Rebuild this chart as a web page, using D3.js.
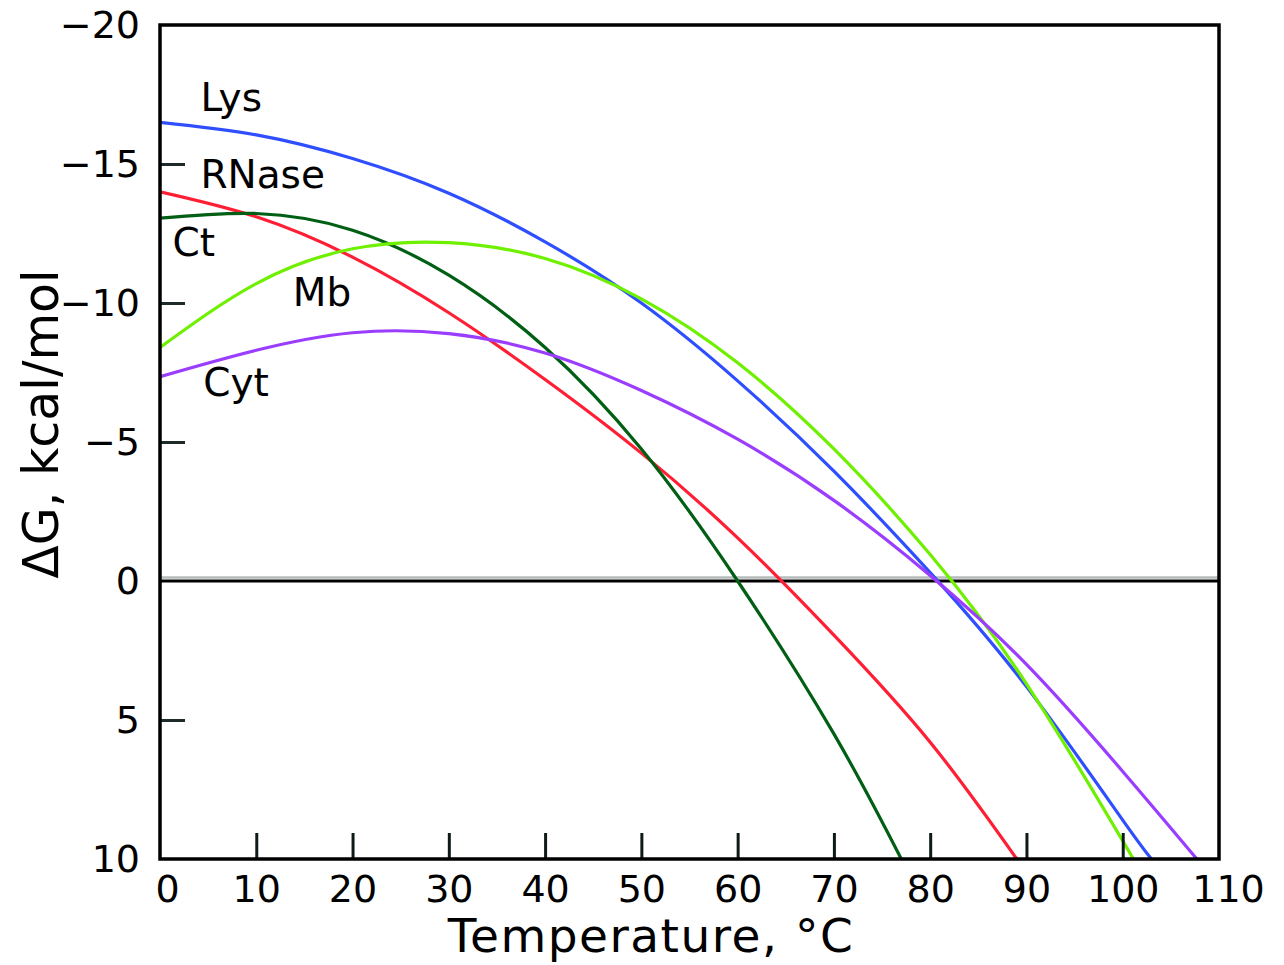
<!DOCTYPE html>
<html>
<head>
<meta charset="utf-8">
<script src="https://cdn.jsdelivr.net/npm/d3@7"></script>
<style>
  html, body { margin: 0; padding: 0; background: #fff; }
  svg { display: block; }
  text { font-family: "DejaVu Sans", Verdana, sans-serif; fill: #000; }
</style>
</head>
<body>
<svg id="chart" width="1284" height="965"></svg>
<script>
// ---- data ----
const seriesNames = ["Lys", "RNase", "Ct", "Mb", "Cyt"];

const lysT = [0, 10, 20, 30, 40, 50, 60, 70, 80, 90, 100, 103];
const lysG = [-16.5, -16.05, -15.2, -13.95, -12.2, -10.0, -7.2, -3.95, -0.3, 3.8, 8.6, 10];

const rnaseT = [0, 10, 20, 30, 40, 50, 60, 70, 80, 89];
const rnaseG = [-14.0, -13.1, -11.65, -9.65, -7.25, -4.6, -1.55, 1.95, 5.8, 10];

const ctT = [0, 10, 20, 30, 40, 50, 60, 70, 77];
const ctG = [-13.05, -13.22, -12.62, -11.0, -8.4, -4.75, 0, 5.5, 10];

const mbT = [0, 10, 20, 30, 40, 50, 60, 70, 80, 90, 100, 101.1];
const mbG = [-8.4, -10.7, -11.95, -12.17, -11.6, -10.15, -7.85, -4.75, -0.95, 3.7, 9.35, 10];

const cytT = [0, 10, 20, 30, 40, 50, 60, 70, 80, 90, 100, 107.7];
const cytG = [-7.35, -8.3, -8.93, -8.9, -8.2, -6.85, -5.1, -2.9, -0.2, 3.0, 6.85, 10];

const xTicks = [0, 10, 20, 30, 40, 50, 60, 70, 80, 90, 100, 110];
const yTicks = [-20, -15, -10, -5, 0, 5, 10];
const xTitle = "Temperature, °C";
const yTitle = "ΔG, kcal/mol";

const colors = ["#2f4fff", "#ff1f35", "#005f14", "#6ef000", "#9b3dff"];
const labelPos = [ // label anchor in data units
  [4.2, -16.9], [4.2, -14.15], [1.3, -11.7], [13.8, -9.9], [4.5, -6.65]
];

// ---- layout ----
const svg = d3.select("#chart");
const x = d3.scaleLinear().domain([0, 110]).range([160, 1219]);
const y = d3.scaleLinear().domain([-20, 10]).range([25, 859]);

const series = [
  {name: seriesNames[0], T: lysT, G: lysG},
  {name: seriesNames[1], T: rnaseT, G: rnaseG},
  {name: seriesNames[2], T: ctT, G: ctG},
  {name: seriesNames[3], T: mbT, G: mbG},
  {name: seriesNames[4], T: cytT, G: cytG}
];

// zero line (with a light shadow above, as in the reference)
svg.append("line")
  .attr("x1", x(0)).attr("x2", x(110))
  .attr("y1", y(0) - 3.5).attr("y2", y(0) - 3.5)
  .attr("stroke", "#b4bcbc").attr("stroke-width", 2.5);
svg.append("line")
  .attr("x1", x(0)).attr("x2", x(110))
  .attr("y1", y(0)).attr("y2", y(0))
  .attr("stroke", "#000").attr("stroke-width", 3);

// curves
const line = d3.line()
  .x(d => x(d[0])).y(d => y(d[1]))
  .curve(d3.curveNatural);

svg.append("clipPath").attr("id", "clip")
  .append("rect").attr("x", x(0)).attr("y", y(-20))
  .attr("width", x(110) - x(0)).attr("height", y(10) - y(-20));

const gLines = svg.append("g").attr("clip-path", "url(#clip)");
series.forEach((s, i) => {
  const pts = s.T.map((t, j) => [t, s.G[j]]);
  gLines.append("path")
    .attr("d", line(pts))
    .attr("fill", "none")
    .attr("stroke", colors[i])
    .attr("stroke-width", 3.2);
});

// curve labels
series.forEach((s, i) => {
  svg.append("text")
    .attr("x", x(labelPos[i][0]))
    .attr("y", y(labelPos[i][1]))
    .attr("font-size", 39)
    .text(s.name);
});

// axes
const fmt = d => (d < 0 ? "\u2212" + Math.abs(d) : String(d));

const yAxis = d3.axisLeft(y).tickValues(yTicks).tickFormat(fmt)
  .tickSizeInner(-25).tickSizeOuter(0).tickPadding(20);
const gy = svg.append("g").attr("transform", `translate(${x(0)},0)`).call(yAxis);
gy.select(".domain").remove();
gy.selectAll(".tick line")
  .attr("stroke", "#1e2a2a").attr("stroke-width", 3)
  .attr("display", d => (d === -20 || d === 0 || d === 10) ? "none" : null);
gy.selectAll(".tick text").attr("font-size", 38)
  .style("font-family", "'DejaVu Sans', Verdana, sans-serif").attr("fill", "#000");

const xAxis = d3.axisBottom(x).tickValues(xTicks).tickFormat(d => String(d))
  .tickSizeInner(-26).tickSizeOuter(0).tickPadding(16);
const gx = svg.append("g").attr("transform", `translate(0,${y(10)})`).call(xAxis);
gx.select(".domain").remove();
gx.selectAll(".tick line")
  .attr("stroke", "#0e1a1a").attr("stroke-width", 3)
  .attr("display", d => (d === 0 || d === 110) ? "none" : null);
gx.selectAll(".tick text").attr("font-size", 38)
  .style("font-family", "'DejaVu Sans', Verdana, sans-serif").attr("fill", "#000")
  .attr("dx", d => d === 0 ? 7 : (d === 110 ? 9 : 0));

// frame
svg.append("rect")
  .attr("x", x(0)).attr("y", y(-20))
  .attr("width", x(110) - x(0)).attr("height", y(10) - y(-20))
  .attr("fill", "none").attr("stroke", "#000").attr("stroke-width", 3.5);

// axis titles
svg.append("text")
  .attr("x", 651).attr("y", 952)
  .attr("text-anchor", "middle")
  .attr("font-size", 47)
  .attr("letter-spacing", 1.5)
  .text(xTitle);

svg.append("text")
  .attr("transform", "translate(58,424) rotate(-90)")
  .attr("text-anchor", "middle")
  .attr("font-size", 49)
  .text(yTitle);
</script>
</body>
</html>
